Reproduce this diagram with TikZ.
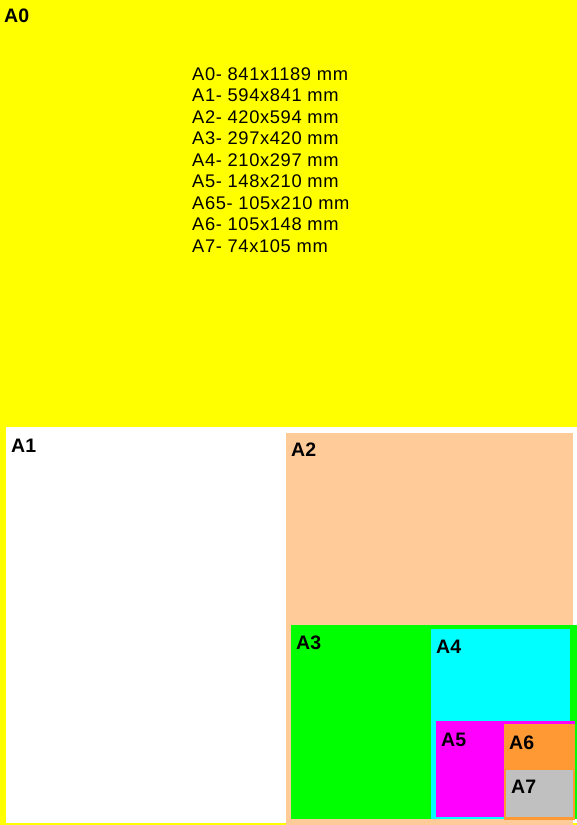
\documentclass[tikz,border=0pt]{standalone}
\usepackage{fontspec}
\setmainfont{Liberation Sans}
\newfontfamily\listfont[LetterSpace=3.5]{Liberation Sans}
\newfontfamily\labfont{Liberation Sans Bold}
\definecolor{cA0}{RGB}{255,255,0}
\definecolor{cA2}{RGB}{255,204,153}
\definecolor{cA3}{RGB}{0,255,0}
\definecolor{cA4}{RGB}{0,255,255}
\definecolor{cA5}{RGB}{255,0,255}
\definecolor{cA6}{RGB}{255,153,51}
\definecolor{cA7}{RGB}{192,192,192}
\tikzset{
  sheetlabel/.style={anchor=base west, inner sep=0pt, font=\labfont\fontsize{19.5}{22}\selectfont},
  sizeline/.style={anchor=base west, inner sep=0pt, font=\listfont\fontsize{18.3}{21.5}\selectfont}
}
\begin{document}
\begin{tikzpicture}[x=1pt,y=-1pt]
\useasboundingbox (0,0) rectangle (577,825);
% sheets
\fill[cA0] (0,0) rectangle (577,825);
\fill[white] (6,427) rectangle (577,822.5);
\fill[cA2] (286,433) rectangle (573,825);
\fill[cA3] (291,625) rectangle (577,819);
\fill[cA4] (431,629) rectangle (570,819);
\fill[cA5] (436,721) rectangle (575,817);
\fill[cA6] (504,724) rectangle (575,820);
\fill[cA7] (506,770) rectangle (573,817);
% labels
\node[sheetlabel] (lA0) at (4,22) {A0};
\node[sheetlabel] (lA1) at (11,452) {A1};
\node[sheetlabel] (lA2) at (291,456) {A2};
\node[sheetlabel] (lA3) at (296,649) {A3};
\node[sheetlabel] (lA4) at (436,653) {A4};
\node[sheetlabel] (lA5) at (441,746) {A5};
\node[sheetlabel] (lA6) at (509,749) {A6};
\node[sheetlabel] (lA7) at (511,793) {A7};
% size list
\node[sizeline] (s0) at (192,80) {A0- 841x1189 mm};
\node[sizeline] (s1) at (192,101.5) {A1- 594x841 mm};
\node[sizeline] (s2) at (192,123) {A2- 420x594 mm};
\node[sizeline] (s3) at (192,144.5) {A3- 297x420 mm};
\node[sizeline] (s4) at (192,166) {A4- 210x297 mm};
\node[sizeline] (s5) at (192,187.5) {A5- 148x210 mm};
\node[sizeline] (s65) at (192,209) {A65- 105x210 mm};
\node[sizeline] (s6) at (192,230.5) {A6- 105x148 mm};
\node[sizeline] (s7) at (192,252) {A7- 74x105 mm};
\end{tikzpicture}
\end{document}
